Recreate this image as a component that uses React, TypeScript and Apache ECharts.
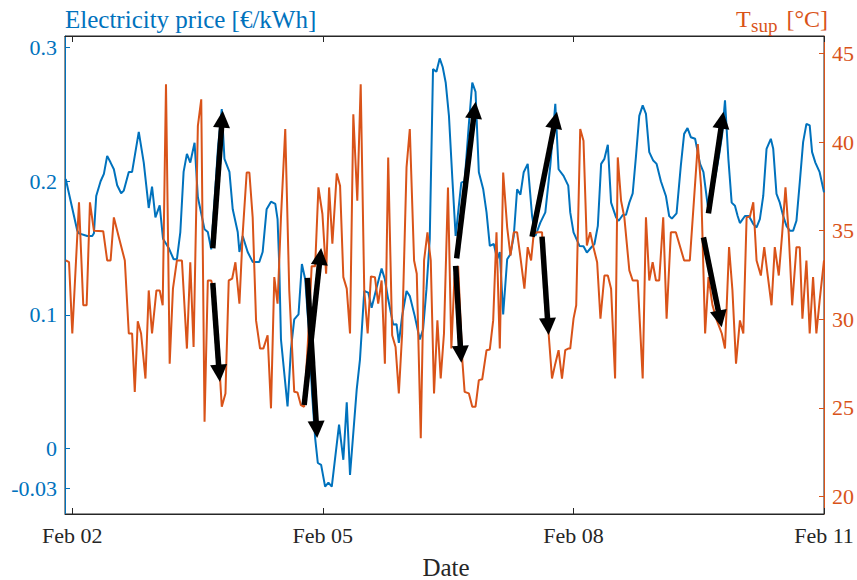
import React, { useEffect, useRef } from "react";
import * as echarts from "echarts";

// Hours measured from Feb 02 00:00
const tickHours = [0, 72, 144, 216];
const tickLabels = ["Feb 02", "Feb 05", "Feb 08", "Feb 11"];

const priceTicks = [-0.03, 0, 0.1, 0.2, 0.3];
const priceTickLabels = ["-0.03", "0", "0.1", "0.2", "0.3"];

const tempTicks = [20, 25, 30, 35, 40, 45];
const tempTickLabels = ["20", "25", "30", "35", "40", "45"];

// Electricity price [€/kWh]: [hour, value]
const priceSeries: number[][] = [
  [-1.89, 0.2017], [1.43, 0.163], [1.92, 0.161], [4.29, 0.159], [5.73, 0.159], [6.21, 0.161], [6.87, 0.189],
  [8.13, 0.2], [9.08, 0.2055], [10.02, 0.219], [11.0, 0.214], [11.94, 0.209], [12.89, 0.197], [14.03, 0.191],
  [14.8, 0.193], [16.23, 0.207], [17.18, 0.207], [19.1, 0.237], [20.53, 0.214], [21.96, 0.18], [22.91, 0.196],
  [23.88, 0.173], [25.11, 0.182], [26.06, 0.157], [27.69, 0.15], [29.12, 0.1416], [30.06, 0.1416], [31.04, 0.162],
  [31.98, 0.207], [32.93, 0.2205], [33.9, 0.214], [35.13, 0.2288], [36.08, 0.188], [38.0, 0.164], [38.94, 0.162],
  [39.91, 0.149], [40.86, 0.185], [41.86, 0.225], [42.95, 0.254], [43.72, 0.2168], [45.15, 0.207], [46.1, 0.179],
  [47.53, 0.162], [48.02, 0.147], [48.96, 0.159], [50.39, 0.147], [51.83, 0.1396], [53.74, 0.1396], [54.69, 0.147],
  [55.83, 0.179], [57.09, 0.1847], [58.33, 0.183], [58.98, 0.1717], [59.47, 0.1366], [59.96, 0.0815], [61.85, 0.0314],
  [62.82, 0.074], [63.77, 0.0965], [65.0, 0.1003], [65.97, 0.138], [66.92, 0.1266], [67.92, 0.09], [68.92, 0.04],
  [69.78, 0.0077], [70.55, -0.011], [71.5, -0.0124], [72.64, -0.0287], [73.59, -0.0257], [74.56, -0.0287],
  [76.65, 0.0177], [77.88, -0.0086], [78.86, 0.0344], [79.8, -0.02], [81.72, 0.044], [82.66, 0.0665],
  [83.89, 0.1178], [85.04, 0.1166], [86.01, 0.1053], [87.45, 0.1204], [88.88, 0.1346], [89.82, 0.1266],
  [90.77, 0.1116], [92.2, 0.0928], [93.17, 0.093], [93.83, 0.079], [94.78, 0.099], [96.04, 0.1178], [96.98, 0.114],
  [98.41, 0.099], [99.84, 0.0815], [100.79, 0.089], [101.76, 0.119], [102.71, 0.1566], [103.65, 0.284],
  [104.63, 0.282], [105.57, 0.292], [106.43, 0.2856], [107.29, 0.274], [108.23, 0.249], [109.21, 0.2017],
  [110.15, 0.159], [111.78, 0.199], [112.73, 0.2], [113.87, 0.24], [114.93, 0.274], [115.87, 0.2669],
  [116.82, 0.2068], [118.08, 0.194], [119.03, 0.1767], [119.97, 0.1516], [121.12, 0.153], [122.09, 0.1416],
  [122.84, 0.147], [123.81, 0.1003], [124.96, 0.1416], [125.9, 0.1454], [126.85, 0.159], [127.82, 0.194],
  [128.77, 0.19], [129.71, 0.2068], [130.86, 0.213], [132.12, 0.174], [133.06, 0.159], [134.49, 0.169],
  [135.92, 0.1767], [137.35, 0.2117], [138.79, 0.258], [139.73, 0.209], [141.16, 0.204], [142.51, 0.1967],
  [143.08, 0.1767], [144.03, 0.1617], [145.74, 0.1516], [146.89, 0.1514], [147.86, 0.1466], [149.09, 0.1504],
  [150.04, 0.153], [151.01, 0.1666], [151.96, 0.213], [152.9, 0.2168], [153.88, 0.2273], [154.82, 0.184],
  [156.25, 0.173], [157.02, 0.1704], [158.17, 0.1747], [159.11, 0.175], [160.06, 0.184], [161.03, 0.191],
  [161.98, 0.219], [162.92, 0.249], [163.9, 0.2568], [164.84, 0.2505], [165.79, 0.2218], [166.93, 0.2155],
  [167.9, 0.213], [169.13, 0.2], [170.57, 0.189], [171.51, 0.174], [172.29, 0.172], [173.63, 0.176],
  [174.86, 0.2117], [175.81, 0.2355], [176.78, 0.2398], [177.73, 0.233], [178.96, 0.2318], [180.39, 0.213],
  [181.36, 0.2068], [182.59, 0.1817], [183.74, 0.19], [184.88, 0.205], [185.88, 0.22], [186.74, 0.235],
  [187.55, 0.2606], [188.52, 0.2168], [189.47, 0.184], [190.41, 0.1817], [191.19, 0.174], [191.84, 0.1687],
  [193.28, 0.174], [194.42, 0.174], [195.68, 0.168], [196.62, 0.1654], [197.57, 0.1717], [198.54, 0.189],
  [199.49, 0.2243], [200.72, 0.2318], [201.41, 0.2243], [202.35, 0.1905], [203.3, 0.184], [204.27, 0.174],
  [205.22, 0.1666], [206.16, 0.163], [207.14, 0.163], [208.08, 0.1704], [209.03, 0.199], [210.0, 0.2293],
  [210.95, 0.243], [211.89, 0.2418], [212.58, 0.2218], [213.52, 0.214], [214.75, 0.2068], [216.0, 0.1917],
];

// Supply temperature T_sup [°C]: [hour, value]
const tempSeries: number[][] = [
  [-1.89, 33.32], [-0.94, 33.22], [0, 29.2], [1.92, 36.6], [3.15, 30.79], [4.12, 30.79], [5.07, 36.6], [6.21, 35.0],
  [8.88, 34.97], [10.02, 33.32], [11.0, 33.32], [11.94, 35.75], [13.37, 34.63], [15.09, 33.32], [16.23, 29.2],
  [17.18, 29.2], [17.95, 25.91], [18.81, 29.89], [19.76, 29.2], [21.02, 26.66], [21.96, 31.63], [22.91, 29.2],
  [24.17, 31.63], [25.11, 31.63], [25.97, 30.79], [26.92, 43.26], [27.98, 27.5], [28.92, 31.73], [30.06, 33.32],
  [31.5, 33.32], [32.93, 28.35], [33.9, 33.22], [34.85, 28.44], [36.08, 40.91], [37.05, 42.41], [38.0, 24.22],
  [38.94, 32.19], [39.91, 32.19], [40.86, 31.5], [41.92, 28.5], [42.95, 25.07], [44.01, 25.82], [44.95, 32.19],
  [45.93, 32.29], [46.87, 33.22], [48.02, 30.88], [48.96, 34.82], [50.11, 38.28], [50.88, 38.28], [51.83, 35.75],
  [52.8, 29.94], [53.95, 28.35], [54.89, 28.35], [56.12, 29.1], [57.09, 24.98], [58.04, 32.38], [58.98, 30.88],
  [59.96, 35.75], [61.19, 40.73], [62.34, 31.63], [63.77, 25.91], [64.71, 25.87], [65.69, 25.16], [66.63, 25.07],
  [67.78, 29.0], [68.78, 33.0], [69.78, 33.0], [70.72, 37.44], [71.87, 35.94], [72.93, 32.57], [73.79, 37.44],
  [74.73, 34.26], [75.99, 38.23], [76.94, 37.54], [77.88, 32.38], [78.86, 31.73], [79.8, 29.2], [80.75, 41.57],
  [81.89, 36.69], [82.87, 43.26], [83.89, 31.63], [84.87, 29.2], [85.81, 32.42], [86.96, 32.38], [87.9, 30.88],
  [88.88, 32.19], [89.82, 27.5], [90.77, 39.13], [91.91, 29.1], [92.89, 28.44], [93.83, 25.82], [94.78, 29.2],
  [96.04, 38.57], [96.98, 40.73], [98.21, 33.32], [98.98, 32.57], [100.13, 23.29], [101.08, 33.32], [102.05, 34.91],
  [103.0, 33.32], [103.94, 25.82], [104.91, 29.94], [105.86, 26.66], [106.8, 29.2], [107.95, 37.44], [108.92, 28.35],
  [109.86, 32.57], [110.87, 33.0], [112.07, 27.69], [112.73, 25.91], [113.96, 25.82], [114.93, 25.07],
  [115.87, 25.07], [116.82, 26.57], [117.79, 26.62], [119.03, 28.26], [119.97, 28.3], [120.94, 29.94],
  [121.89, 34.91], [122.84, 28.35], [123.81, 38.28], [124.96, 35.19], [125.9, 33.6], [126.85, 34.91],
  [127.82, 34.91], [128.77, 33.5], [129.91, 31.73], [130.86, 34.07], [131.83, 33.32], [132.58, 34.82],
  [133.55, 34.91], [134.98, 34.91], [135.92, 30.69], [136.87, 29.2], [137.84, 26.66], [138.79, 27.5],
  [139.73, 28.26], [140.71, 26.66], [141.65, 28.26], [142.51, 28.35], [143.08, 28.35], [144.03, 30.04],
  [144.8, 30.79], [145.95, 40.73], [146.89, 40.07], [147.86, 34.16], [148.8, 34.91], [149.75, 34.07],
  [150.81, 33.22], [151.76, 30.04], [152.9, 32.47], [153.88, 32.47], [154.82, 31.73], [155.97, 26.66],
  [156.74, 39.13], [157.69, 36.69], [158.63, 35.75], [160.06, 32.76], [161.03, 32.19], [162.47, 32.19],
  [163.9, 26.66], [164.84, 35.75], [165.79, 32.19], [166.76, 33.22], [167.71, 32.19], [168.65, 32.19],
  [169.8, 35.75], [170.77, 30.04], [172.0, 34.91], [173.43, 34.91], [175.81, 33.32], [177.44, 33.32],
  [179.74, 39.88], [180.7, 37.44], [181.84, 29.2], [182.81, 32.38], [183.96, 30.79], [185.2, 29.94],
  [186.63, 29.2], [187.55, 28.35], [188.72, 34.07], [189.69, 31.63], [190.72, 27.5], [191.84, 29.94],
  [192.82, 29.2], [193.76, 35.75], [194.71, 35.8], [195.68, 36.6], [196.62, 33.32], [197.85, 32.47],
  [198.83, 34.07], [199.77, 32.57], [200.92, 30.79], [201.86, 34.07], [203.01, 32.47], [203.98, 34.82],
  [204.93, 37.44], [205.87, 34.82], [206.85, 30.79], [208.08, 34.07], [209.03, 34.07], [209.8, 30.04],
  [210.95, 33.32], [211.89, 29.2], [212.86, 32.38], [213.81, 29.2], [214.75, 31.07], [216.0, 33.32],
];

// Annotation arrows in (hour, price) coordinates: [fromHour, fromPrice, toHour, toPrice]
const arrows: number[][] = [
  [40.37, 0.1498, 43.23, 0.2528],
  [40.37, 0.1238, 42.38, 0.0499],
  [66.63, 0.0324, 71.5, 0.15],
  [67.57, 0.1276, 70.35, 0.0077],
  [110.44, 0.1423, 115.88, 0.2596],
  [110.15, 0.1366, 111.78, 0.0641],
  [132.11, 0.1585, 139.27, 0.2521],
  [134.98, 0.1585, 136.87, 0.0849],
  [182.79, 0.176, 187.09, 0.2521],
  [181.36, 0.158, 186.6, 0.0906],
];

const BLUE = "#0072BD";
const ORANGE = "#D95319";
const AXIS = "#262626";
const FONT = "Liberation Serif, Times New Roman, serif";

const pick = (vals: number[], labels: string[]) => (v: number) => {
  const i = vals.findIndex((t) => Math.abs(t - v) < 1e-6);
  return i >= 0 ? labels[i] : "";
};

export default function App() {
  const ref = useRef<HTMLDivElement>(null);

  useEffect(() => {
    if (!ref.current) return;
    const chart = echarts.init(ref.current, undefined, { renderer: "svg" });

    const xBase = {
      type: "value",
      min: -2.1,
      max: 216,
      splitLine: { show: false },
      axisLine: { show: true, onZero: false, lineStyle: { color: AXIS, width: 1 } },
      axisTick: { show: true, inside: true, length: 6, customValues: tickHours, lineStyle: { color: AXIS } },
    };

    const textStyle = (fill: string, size: number, align: string) => ({
      fontFamily: FONT,
      fontSize: size,
      fill,
      textAlign: align,
      textVerticalAlign: "middle",
      align,
      verticalAlign: "middle",
    });

    const option: any = {
      animation: false,
      backgroundColor: "#ffffff",
      textStyle: { fontFamily: FONT },
      grid: {
        left: 65,
        right: 30,
        top: 36,
        bottom: 66,
        containLabel: false,
        show: true,
        borderColor: AXIS,
        borderWidth: 1,
        backgroundColor: "transparent",
      },
      xAxis: [
        {
          ...xBase,
          position: "bottom",
          axisLabel: {
            customValues: tickHours,
            formatter: pick(tickHours, tickLabels),
            color: AXIS,
            fontSize: 22,
            fontFamily: FONT,
            margin: 10,
          },
        },
        {
          ...xBase,
          position: "top",
          axisLabel: { show: false },
        },
      ],
      yAxis: [
        {
          type: "value",
          position: "left",
          min: -0.0492,
          max: 0.3088,
          splitLine: { show: false },
          axisLine: { show: true, onZero: false, lineStyle: { color: BLUE, width: 1 } },
          axisTick: { show: true, inside: true, length: 5, customValues: priceTicks, lineStyle: { color: BLUE } },
          axisLabel: {
            customValues: priceTicks,
            formatter: pick(priceTicks, priceTickLabels),
            color: BLUE,
            fontSize: 22,
            fontFamily: FONT,
            margin: 8,
          },
        },
        {
          type: "value",
          position: "right",
          min: 19.02,
          max: 45.98,
          splitLine: { show: false },
          axisLine: { show: true, onZero: false, lineStyle: { color: ORANGE, width: 1 } },
          axisTick: { show: true, inside: true, length: 5, customValues: tempTicks, lineStyle: { color: ORANGE } },
          axisLabel: {
            customValues: tempTicks,
            formatter: pick(tempTicks, tempTickLabels),
            color: ORANGE,
            fontSize: 22,
            fontFamily: FONT,
            margin: 8,
          },
        },
      ],
      series: [
        {
          name: "Electricity price",
          type: "line",
          xAxisIndex: 0,
          yAxisIndex: 0,
          data: priceSeries,
          showSymbol: false,
          symbol: "none",
          lineStyle: { color: BLUE, width: 2 },
          itemStyle: { color: BLUE },
          z: 2,
        },
        {
          name: "T_sup",
          type: "line",
          xAxisIndex: 0,
          yAxisIndex: 1,
          data: tempSeries,
          showSymbol: false,
          symbol: "none",
          lineStyle: { color: ORANGE, width: 2 },
          itemStyle: { color: ORANGE },
          z: 3,
        },
        {
          name: "arrows",
          type: "custom",
          xAxisIndex: 0,
          yAxisIndex: 0,
          data: arrows,
          encode: { x: [0, 2], y: [1, 3] },
          z: 10,
          clip: false,
          renderItem: (_params: any, api: any) => {
            const a = api.coord([api.value(0), api.value(1)]);
            const b = api.coord([api.value(2), api.value(3)]);
            const dx = b[0] - a[0];
            const dy = b[1] - a[1];
            const len = Math.hypot(dx, dy) || 1;
            const ux = dx / len;
            const uy = dy / len;
            const headLen = 17;
            const headHalf = 8.5;
            const bx = b[0] - ux * headLen;
            const by = b[1] - uy * headLen;
            const px = -uy;
            const py = ux;
            return {
              type: "group",
              children: [
                {
                  type: "line",
                  shape: { x1: a[0], y1: a[1], x2: bx + ux * 2, y2: by + uy * 2 },
                  style: { stroke: "#000000", lineWidth: 5.5, lineCap: "butt" },
                },
                {
                  type: "polygon",
                  shape: {
                    points: [
                      [b[0], b[1]],
                      [bx + px * headHalf, by + py * headHalf],
                      [bx - px * headHalf, by - py * headHalf],
                    ],
                  },
                  style: { fill: "#000000" },
                },
              ],
            };
          },
        },
      ],
      graphic: [
        {
          type: "text",
          x: 65,
          y: 19,
          style: { text: "Electricity price [€/kWh]", ...textStyle(BLUE, 25, "left") },
        },
        {
          type: "text",
          x: 736,
          y: 19,
          style: { text: "T", ...textStyle(ORANGE, 24, "left") },
        },
        {
          type: "text",
          x: 751,
          y: 25.5,
          style: { text: "sup", ...textStyle(ORANGE, 19, "left") },
        },
        {
          type: "text",
          x: 828,
          y: 19,
          style: { text: "[°C]", ...textStyle(ORANGE, 24, "right") },
        },
        {
          type: "text",
          x: 446,
          y: 567,
          style: { text: "Date", ...textStyle(AXIS, 25, "center") },
        },
      ],
    };

    chart.setOption(option);
    return () => chart.dispose();
  }, []);

  return (
    <div
      ref={ref}
      style={{ position: "fixed", left: 0, top: 0, width: 857, height: 580, background: "#fff" }}
    />
  );
}
